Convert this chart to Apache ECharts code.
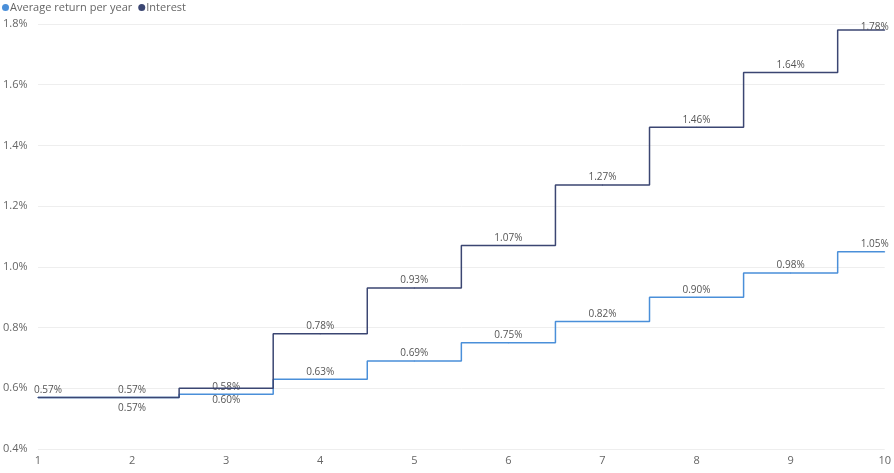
<!DOCTYPE html>
<html><head><meta charset="utf-8">
<script src="https://cdn.jsdelivr.net/npm/echarts@6/dist/echarts.min.js"></script>
<style>html,body{margin:0;padding:0;background:#fff}#c{width:894px;height:473px}</style>
</head><body><div id="c"></div>
<script>
const categories = ['1','2','3','4','5','6','7','8','9','10'];
const averageReturn = [0.57,0.57,0.58,0.63,0.69,0.75,0.82,0.90,0.98,1.05];
const interest = [0.57,0.57,0.60,0.78,0.93,1.07,1.27,1.46,1.64,1.78];
const yTicks = [0.4,0.6,0.8,1.0,1.2,1.4,1.6,1.8];

const font = '"Open Sans", "Noto Sans", sans-serif';
const lblStyle = {color:'#555', fontSize:10, fontFamily:font};

function mkData(vals, seriesName){
  return vals.map((v,i)=>{
    const lab = Object.assign({show:true, position:'top', distance:2}, lblStyle);
    if(i===0){ lab.align='left'; lab.offset=[-4,0]; }
    if(i===vals.length-1){ lab.align='right'; lab.offset=[4,0]; }
    if(seriesName==='avg'){
      if(i===0) lab.show=false;
      if(i===1){ lab.position='bottom'; lab.distance=5; }
      if(i===2){ lab.position='top'; lab.distance=2; }
    } else {
      if(i===2){ lab.position='bottom'; lab.distance=6; }
      if(i===vals.length-1){ lab.distance=-3; }
    }
    return {value:v, label:lab};
  });
}

const chart = echarts.init(document.getElementById('c'));
chart.setOption({
  animation:false,
  legend:{left:2, top:2, padding:0, itemGap:6, icon:'circle', itemWidth:7, itemHeight:7,
    textStyle:{color:'#666', fontSize:11, fontFamily:font, padding:[0,0,0,-4]},
    data:['Average return per year','Interest']},
  grid:{left:37, right:9, top:24, bottom:24, containLabel:false},
  xAxis:{type:'category', data:categories, boundaryGap:false,
    axisLine:{show:false}, axisTick:{show:false},
    axisLabel:{color:'#666', fontSize:11, fontFamily:font, margin:6}},
  yAxis:{type:'value', min:0.4, max:1.8, interval:0.2,
    axisLine:{show:false}, axisTick:{show:false},
    splitLine:{lineStyle:{color:'#eeeeee', width:1}},
    axisLabel:{color:'#666', fontSize:11, fontFamily:font, align:'left', margin:35,
      formatter:v=>yTicks.includes(Math.round(v*10)/10)?v.toFixed(1)+'%':''}},
  series:[
    {name:'Average return per year', type:'line', step:'middle', data:mkData(averageReturn,'avg'),
      symbol:'circle', symbolSize:1, showSymbol:true, itemStyle:{color:'#4a8fd9'},
      color:'#4a8fd9', lineStyle:{width:1.5, color:'#4a8fd9'},
      label:Object.assign({show:true, formatter:p=>p.value.toFixed(2)+'%'}, lblStyle), z:2},
    {name:'Interest', type:'line', step:'middle', data:mkData(interest,'int'),
      symbol:'circle', symbolSize:1, showSymbol:true, itemStyle:{color:'#3b4672'},
      color:'#3b4672', lineStyle:{width:1.5, color:'#3b4672'},
      label:Object.assign({show:true, formatter:p=>p.value.toFixed(2)+'%'}, lblStyle), z:3}
  ]
});
</script></body></html>
